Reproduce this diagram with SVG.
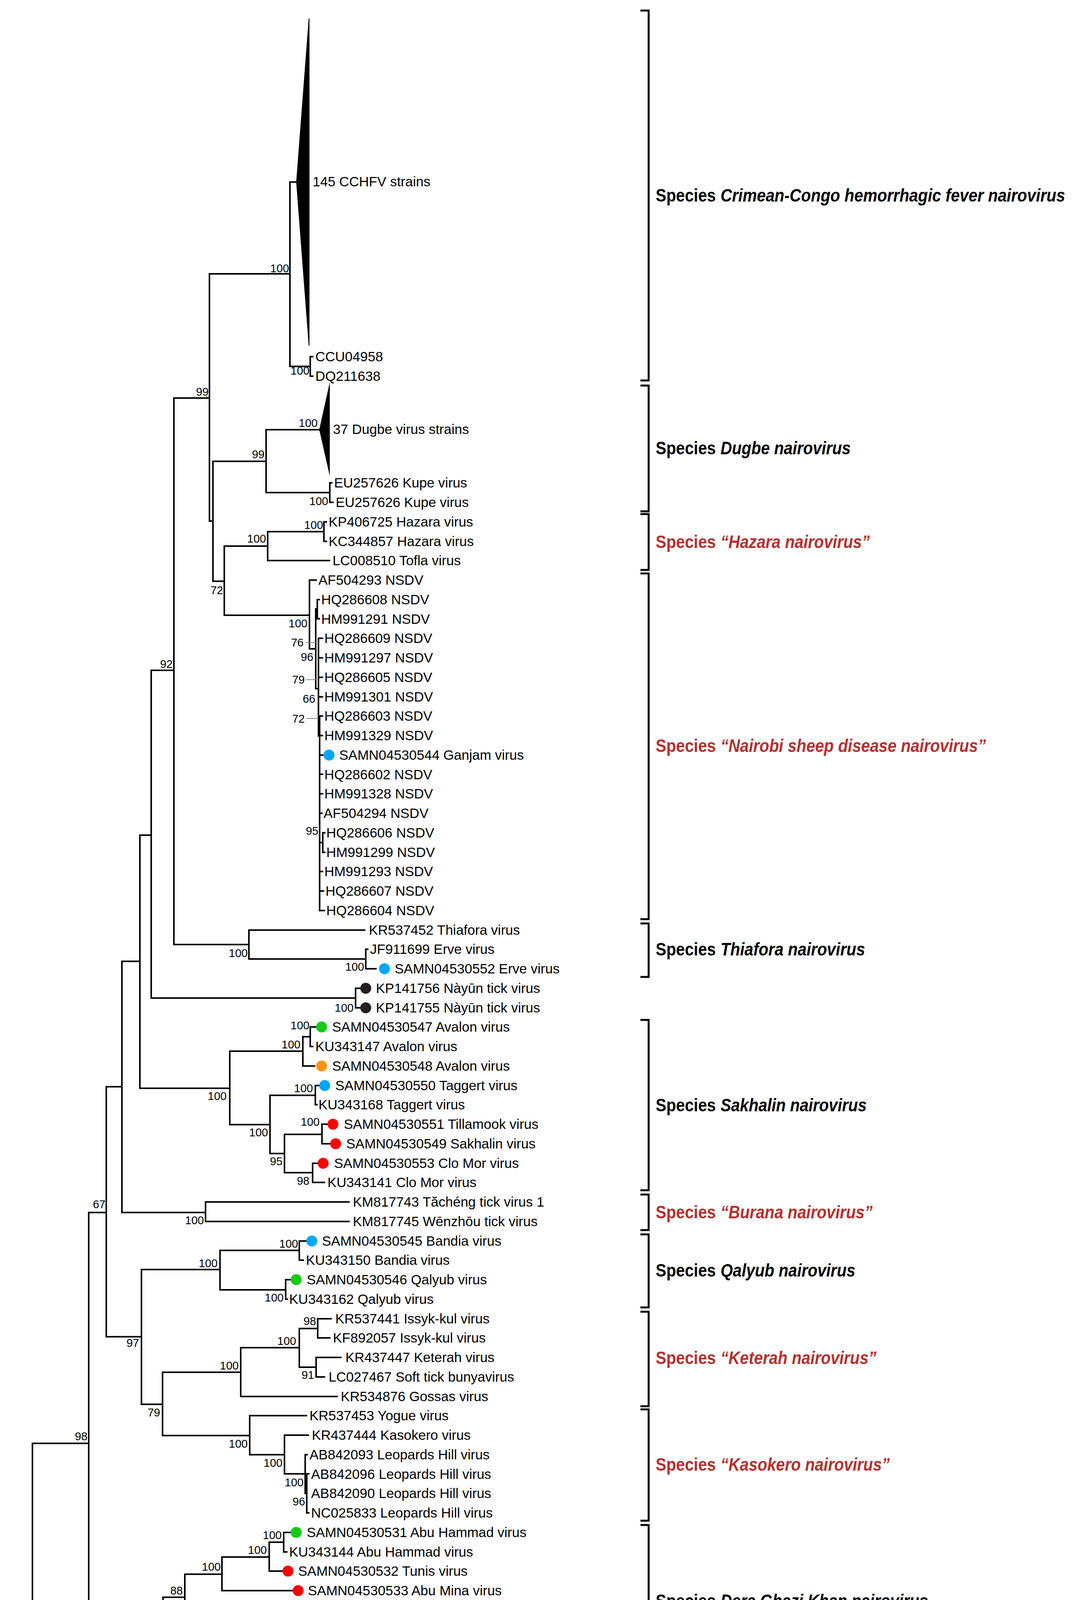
<svg xmlns="http://www.w3.org/2000/svg" width="2746" height="5139" viewBox="0 0 2746 5139">
<style>
.br{stroke:#000;stroke-width:4;fill:none;stroke-linecap:square}
.ld{stroke:#8a8a8a;stroke-width:2;fill:none}
.bk{stroke:#000;stroke-width:5;fill:none}
.t{font-family:"Liberation Sans",Arial,sans-serif;font-size:35px;fill:#000}
.bs{font-family:"Liberation Sans",Arial,sans-serif;font-size:29px;fill:#000;text-anchor:end}
.sp{font-family:"Liberation Sans",Arial,sans-serif;font-size:46px;font-weight:bold;fill:#000}
.red{fill:#b3312f}
.it{font-style:italic}
.cb{fill:#00a6ff}.cg{fill:#14cc14}.cr{fill:#ff0000}.co{fill:#ff9410}.ck{fill:#231f20}
</style>
<rect width="2746" height="5139" fill="#fff"/>
<g id="connectors">
<path class="br" d="M25 4232V4900M25 4232H83M25 4900H48"/>
<path class="br" d="M83 3695V4769M83 3695H227M83 4769H1065"/>
<path class="br" d="M227 3104V4291M227 3104H272M227 4291H352"/>
<path class="br" d="M272 2782V3422M272 2782H312M272 3422H362"/>
<path class="br" d="M312 2461V3104M312 2461H358M312 3104H526"/>
<path class="br" d="M358 2138V2786M358 2138H387M358 2786H588"/>
<path class="br" d="M387 1716V2555M387 1716H445M387 2555H910"/>
<path class="br" d="M445 1019V2418M445 1019H536M445 2418H637"/>
<path class="br" d="M536 701V1334M536 701H742M536 1334H545"/>
<path class="br" d="M742 466V938M742 466H758M742 938H794"/>
<path class="br" d="M794 913V963M794 913H800M794 963H800"/>
<polygon points="790,47 758,466 790,885 792,885 792,47" fill="#000"/>
<path class="br" d="M545 1181V1488M545 1181H681M545 1488H574"/>
<path class="br" d="M681 1100V1261M681 1100H817M681 1261H844"/>
<polygon points="844,978 817,1100 844,1219" fill="#000"/>
<path class="br" d="M844 1236V1286M844 1236H849M844 1286H852"/>
<path class="br" d="M574 1398V1575M574 1398H685M574 1575H792"/>
<path class="br" d="M685 1361V1435M685 1361H829M685 1435H843"/>
<path class="br" d="M829 1336V1386M829 1336H835M829 1386H835"/>
<path class="br" d="M792 1485V1661M792 1485H809M792 1661H808"/>
<path class="br" d="M808 1559V1763M808 1559H812M808 1763H815"/>
<path class="br" d="M812 1535V1584M812 1535H817M812 1584H817"/>
<path class="br" d="M815 1634V1884M815 1634H825M815 1684H825M815 1734H825M815 1784H825M815 1884H818"/>
<path class="br" d="M818 1833V2331M818 1833H825M818 1883H825M818 1933H826M818 1982H825M818 2032H825M818 2082H824M818 2231H825M818 2281H828M818 2331H830"/>
<path class="br" d="M818 2157H826M826 2132V2182M826 2132H831M826 2182H831"/>
<path class="ld" d="M782 1645H815M783 1740H812M783 1839H815"/>
<path class="br" d="M637 2381V2455M637 2381H933M637 2455H936"/>
<path class="br" d="M936 2430V2480M936 2430H941M936 2480H962"/>
<path class="br" d="M910 2530V2580M910 2530H920M910 2580H920"/>
<path class="br" d="M588 2691V2879M588 2691H775M588 2879H691"/>
<path class="br" d="M775 2654V2729M775 2654H794M775 2729H805"/>
<path class="br" d="M794 2629V2679M794 2629H807M794 2679H800"/>
<path class="br" d="M691 2804V2953M691 2804H807M691 2953H728"/>
<path class="br" d="M807 2779V2828M807 2779H815M807 2828H811"/>
<path class="br" d="M728 2904V3002M728 2904H824M728 3002H800"/>
<path class="br" d="M824 2878V2928M824 2878H836M824 2928H843"/>
<path class="br" d="M800 2978V3027M800 2978H811M800 3027H830"/>
<path class="br" d="M526 3077V3127M526 3077H893M526 3127H893"/>
<path class="br" d="M362 3250V3595M362 3250H563M362 3595H416"/>
<path class="br" d="M563 3201V3302M563 3201H766M563 3302H731"/>
<path class="br" d="M766 3177V3226M766 3177H782M766 3226H776"/>
<path class="br" d="M731 3276V3326M731 3276H742M731 3326H735"/>
<path class="br" d="M416 3513V3675M416 3513H616M416 3675H639"/>
<path class="br" d="M616 3450V3575M616 3450H766M616 3575H863"/>
<path class="br" d="M766 3401V3500M766 3401H813M766 3500H809"/>
<path class="br" d="M813 3376V3425M813 3376H847M813 3425H844"/>
<path class="br" d="M809 3475V3525M809 3475H872M809 3525H830"/>
<path class="br" d="M639 3624V3724M639 3624H784M639 3724H728"/>
<path class="br" d="M728 3674V3773M728 3674H789M728 3773H781"/>
<path class="br" d="M781 3724V3823M781 3724H786M781 3823H785"/>
<path class="br" d="M785 3773V3873M785 3773H790M785 3873H790"/>
<path class="br" d="M352 4170V4415M352 4170H417M352 4415H606"/>
<path class="br" d="M417 4089V4247M417 4089H473M417 4247H835"/>
<path class="br" d="M473 4030V4149M473 4030H568M473 4149H752"/>
<path class="br" d="M568 3986V4072M568 3986H689M568 4072H747"/>
<path class="br" d="M689 3948V4022M689 3948H726M689 4022H721"/>
<path class="br" d="M726 3923V3973M726 3923H742M726 3973H734"/>
<path class="br" d="M752 4122V4172M752 4122H767M752 4172H757"/>
<path class="br" d="M835 4221V4271M835 4221H848M835 4271H843"/>
<path class="br" d="M606 4346V4479M606 4346H773M606 4479H712"/>
<path class="br" d="M773 4321V4371M773 4321H920M773 4371H912"/>
<path class="br" d="M712 4420V4535M712 4420H885M712 4535H761"/>
<path class="br" d="M761 4470V4601M761 4470H879M761 4601H784"/>
<path class="br" d="M784 4545V4657M784 4545H852M784 4657H876"/>
<path class="br" d="M852 4520V4570M852 4520H870M852 4570H861"/>
<path class="br" d="M876 4620V4694M876 4620H916M876 4694H901"/>
<path class="br" d="M901 4669V4719M901 4669H914M901 4719H915"/>
<path class="br" d="M48 4843V4956M48 4843H844M48 4956H63"/>
<path class="br" d="M844 4818V4868M844 4818H878M844 4868H869"/>
<path class="br" d="M63 4918V4993M63 4918H1065M63 4993H327"/>
<path class="br" d="M327 4968V5017M327 4968H973M327 5017H985"/>
</g>
<g id="brackets">
<path class="bk" d="M1639 27H1660V974H1639"/>
<path class="bk" d="M1639 987H1660V1309H1639"/>
<path class="bk" d="M1639 1316H1660V1459H1639"/>
<path class="bk" d="M1639 1468H1660V2353H1639"/>
<path class="bk" d="M1639 2364H1660V2501H1639"/>
<path class="bk" d="M1639 2611H1660V3047H1639"/>
<path class="bk" d="M1639 3058H1660V3149H1639"/>
<path class="bk" d="M1639 3160H1660V3347H1639"/>
<path class="bk" d="M1639 3358H1660V3600H1639"/>
<path class="bk" d="M1639 3608H1660V3893H1639"/>
<path class="bk" d="M1639 3904H1660V4294H1639"/>
<path class="bk" d="M1639 4304H1660V4740H1639"/>
<path class="bk" d="M1639 4749H1660V4789H1639"/>
<path class="bk" d="M1639 4794H1660V4884H1639"/>
<path class="bk" d="M1639 4892H1660V4935H1639"/>
<path class="bk" d="M1639 4941H1660V5031H1639"/>
</g>
<g id="species-labels">
<g id="sp-cchfv"><text class="sp" x="1678" y="516" textLength="154" lengthAdjust="spacingAndGlyphs">Species</text><text class="sp it" x="1844" y="516" textLength="882" lengthAdjust="spacingAndGlyphs">Crimean-Congo hemorrhagic fever nairovirus</text></g>
<g id="sp-dugbe"><text class="sp" x="1678" y="1163" textLength="154" lengthAdjust="spacingAndGlyphs">Species</text><text class="sp it" x="1844" y="1163" textLength="333" lengthAdjust="spacingAndGlyphs">Dugbe nairovirus</text></g>
<g id="sp-hazara"><text class="sp red" x="1678" y="1403" textLength="154" lengthAdjust="spacingAndGlyphs">Species</text><text class="sp red it" x="1844" y="1403" textLength="382" lengthAdjust="spacingAndGlyphs">“Hazara nairovirus”</text></g>
<g id="sp-nsdv"><text class="sp red" x="1678" y="1925" textLength="154" lengthAdjust="spacingAndGlyphs">Species</text><text class="sp red it" x="1844" y="1925" textLength="679" lengthAdjust="spacingAndGlyphs">“Nairobi sheep disease nairovirus”</text></g>
<g id="sp-thiafora"><text class="sp" x="1678" y="2446" textLength="154" lengthAdjust="spacingAndGlyphs">Species</text><text class="sp it" x="1844" y="2446" textLength="370" lengthAdjust="spacingAndGlyphs">Thiafora nairovirus</text></g>
<g id="sp-sakhalin"><text class="sp" x="1678" y="2845" textLength="154" lengthAdjust="spacingAndGlyphs">Species</text><text class="sp it" x="1844" y="2845" textLength="374" lengthAdjust="spacingAndGlyphs">Sakhalin nairovirus</text></g>
<g id="sp-burana"><text class="sp red" x="1678" y="3119" textLength="154" lengthAdjust="spacingAndGlyphs">Species</text><text class="sp red it" x="1844" y="3119" textLength="389" lengthAdjust="spacingAndGlyphs">“Burana nairovirus”</text></g>
<g id="sp-qalyub"><text class="sp" x="1678" y="3268" textLength="154" lengthAdjust="spacingAndGlyphs">Species</text><text class="sp it" x="1844" y="3268" textLength="345" lengthAdjust="spacingAndGlyphs">Qalyub nairovirus</text></g>
<g id="sp-keterah"><text class="sp red" x="1678" y="3492" textLength="154" lengthAdjust="spacingAndGlyphs">Species</text><text class="sp red it" x="1844" y="3492" textLength="399" lengthAdjust="spacingAndGlyphs">“Keterah nairovirus”</text></g>
<g id="sp-kasokero"><text class="sp red" x="1678" y="3765" textLength="154" lengthAdjust="spacingAndGlyphs">Species</text><text class="sp red it" x="1844" y="3765" textLength="433" lengthAdjust="spacingAndGlyphs">“Kasokero nairovirus”</text></g>
<g id="sp-dgk"><text class="sp" x="1678" y="4114" textLength="154" lengthAdjust="spacingAndGlyphs">Species</text><text class="sp it" x="1844" y="4114" textLength="531" lengthAdjust="spacingAndGlyphs">Dera Ghazi Khan nairovirus</text></g>
<g id="sp-hughes"><text class="sp" x="1678" y="4537" textLength="154" lengthAdjust="spacingAndGlyphs">Species</text><text class="sp it" x="1844" y="4537" textLength="355" lengthAdjust="spacingAndGlyphs">Hughes nairovirus</text></g>
<g id="sp-g4"><text class="sp" x="1678" y="4784" textLength="459" lengthAdjust="spacingAndGlyphs">Nairo-like virus genus 4</text></g>
<g id="sp-g1"><text class="sp" x="1678" y="4856" textLength="458" lengthAdjust="spacingAndGlyphs">Nairo-like virus genus 1</text></g>
<g id="sp-g3"><text class="sp" x="1678" y="4930" textLength="459" lengthAdjust="spacingAndGlyphs">Nairo-like virus genus 3</text></g>
<g id="sp-g2"><text class="sp" x="1678" y="5001" textLength="459" lengthAdjust="spacingAndGlyphs">Nairo-like virus genus 2</text></g>
</g>
<g id="bootstrap">
<text class="bs" x="740" y="697">100</text>
<text class="bs" x="792" y="959">100</text>
<text class="bs" x="534" y="1013">99</text>
<text class="bs" x="813" y="1093">100</text>
<text class="bs" x="677" y="1173">99</text>
<text class="bs" x="840" y="1293">100</text>
<text class="bs" x="827" y="1354">100</text>
<text class="bs" x="681" y="1389">100</text>
<text class="bs" x="571" y="1521">72</text>
<text class="bs" x="787" y="1606">100</text>
<text class="bs" x="777" y="1655">76</text>
<text class="bs" x="802" y="1692">96</text>
<text class="bs" x="780" y="1750">79</text>
<text class="bs" x="807" y="1799">66</text>
<text class="bs" x="780" y="1850">72</text>
<text class="bs" x="815" y="2137">95</text>
<text class="bs" x="442" y="1710">92</text>
<text class="bs" x="634" y="2450">100</text>
<text class="bs" x="932" y="2485">100</text>
<text class="bs" x="905" y="2590">100</text>
<text class="bs" x="792" y="2635">100</text>
<text class="bs" x="769" y="2684">100</text>
<text class="bs" x="801" y="2796">100</text>
<text class="bs" x="580" y="2816">100</text>
<text class="bs" x="818" y="2882">100</text>
<text class="bs" x="686" y="2909">100</text>
<text class="bs" x="723" y="2983">95</text>
<text class="bs" x="792" y="3033">98</text>
<text class="bs" x="270" y="3093">67</text>
<text class="bs" x="522" y="3134">100</text>
<text class="bs" x="763" y="3194">100</text>
<text class="bs" x="557" y="3244">100</text>
<text class="bs" x="726" y="3332">100</text>
<text class="bs" x="809" y="3392">98</text>
<text class="bs" x="758" y="3443">100</text>
<text class="bs" x="356" y="3448">97</text>
<text class="bs" x="611" y="3506">100</text>
<text class="bs" x="804" y="3530">91</text>
<text class="bs" x="410" y="3626">79</text>
<text class="bs" x="224" y="3687">98</text>
<text class="bs" x="634" y="3706">100</text>
<text class="bs" x="723" y="3755">100</text>
<text class="bs" x="777" y="3805">100</text>
<text class="bs" x="781" y="3854">96</text>
<text class="bs" x="721" y="3940">100</text>
<text class="bs" x="683" y="3978">100</text>
<text class="bs" x="565" y="4021">100</text>
<text class="bs" x="468" y="4082">88</text>
<text class="bs" x="413" y="4161">97</text>
<text class="bs" x="746" y="4178">100</text>
<text class="bs" x="830" y="4276">100</text>
<text class="bs" x="350" y="4313">99</text>
<text class="bs" x="767" y="4337">100</text>
<text class="bs" x="600" y="4445">100</text>
<text class="bs" x="706" y="4509">99</text>
<text class="bs" x="847" y="4535">100</text>
<text class="bs" x="755" y="4567">90</text>
<text class="bs" x="781" y="4632">84</text>
<text class="bs" x="869" y="4688">100</text>
<text class="bs" x="892" y="4725">100</text>
<text class="bs" x="840" y="4830">100</text>
<text class="bs" x="321" y="5023">100</text>
</g>
<g id="tips">
<g id="n-cchfv"><text class="t" x="800" y="477">145 CCHFV strains</text></g>
<g id="n-ccu04958"><text class="t" x="807" y="925">CCU04958</text></g>
<g id="n-dq211638"><text class="t" x="807" y="975">DQ211638</text></g>
<g id="n-dugbe"><text class="t" x="852" y="1111">37 Dugbe virus strains</text></g>
<g id="n-eu1"><text class="t" x="855" y="1248">EU257626 Kupe virus</text></g>
<g id="n-eu2"><text class="t" x="859" y="1298">EU257626 Kupe virus</text></g>
<g id="n-kp406725"><text class="t" x="841" y="1348">KP406725 Hazara virus</text></g>
<g id="n-kc344857"><text class="t" x="841" y="1398">KC344857 Hazara virus</text></g>
<g id="n-lc008510"><text class="t" x="851" y="1447">LC008510 Tofla virus</text></g>
<g id="n-af504293"><text class="t" x="815" y="1497">AF504293 NSDV</text></g>
<g id="n-hq286608"><text class="t" x="822" y="1547">HQ286608 NSDV</text></g>
<g id="n-hm991291"><text class="t" x="822" y="1597">HM991291 NSDV</text></g>
<g id="n-hq286609"><text class="t" x="830" y="1646">HQ286609 NSDV</text></g>
<g id="n-hm991297"><text class="t" x="830" y="1696">HM991297 NSDV</text></g>
<g id="n-hq286605"><text class="t" x="830" y="1746">HQ286605 NSDV</text></g>
<g id="n-hm991301"><text class="t" x="830" y="1796">HM991301 NSDV</text></g>
<g id="n-hq286603"><text class="t" x="830" y="1845">HQ286603 NSDV</text></g>
<g id="n-hm991329"><text class="t" x="830" y="1895">HM991329 NSDV</text></g>
<g id="n-ganjam"><circle class="cb" cx="842" cy="1933" r="14"/><text class="t" x="868" y="1945">SAMN04530544 Ganjam virus</text></g>
<g id="n-hq286602"><text class="t" x="830" y="1995">HQ286602 NSDV</text></g>
<g id="n-hm991328"><text class="t" x="830" y="2044">HM991328 NSDV</text></g>
<g id="n-af504294"><text class="t" x="828" y="2094">AF504294 NSDV</text></g>
<g id="n-hq286606"><text class="t" x="835" y="2144">HQ286606 NSDV</text></g>
<g id="n-hm991299"><text class="t" x="835" y="2194">HM991299 NSDV</text></g>
<g id="n-hm991293"><text class="t" x="830" y="2243">HM991293 NSDV</text></g>
<g id="n-hq286607"><text class="t" x="833" y="2293">HQ286607 NSDV</text></g>
<g id="n-hq286604"><text class="t" x="835" y="2343">HQ286604 NSDV</text></g>
<g id="n-kr537452"><text class="t" x="944" y="2393">KR537452 Thiafora virus</text></g>
<g id="n-jf911699"><text class="t" x="947" y="2442">JF911699 Erve virus</text></g>
<g id="n-erve"><circle class="cb" cx="984" cy="2480" r="14"/><text class="t" x="1010" y="2492">SAMN04530552 Erve virus</text></g>
<g id="n-kp141756"><circle class="ck" cx="936" cy="2530" r="14"/><text class="t" x="962" y="2542">KP141756 Nàyūn tick virus</text></g>
<g id="n-kp141755"><circle class="ck" cx="936" cy="2580" r="14"/><text class="t" x="962" y="2592">KP141755 Nàyūn tick virus</text></g>
<g id="n-avalon1"><circle class="cg" cx="823" cy="2629" r="14"/><text class="t" x="850" y="2641">SAMN04530547 Avalon virus</text></g>
<g id="n-ku343147"><text class="t" x="807" y="2691">KU343147 Avalon virus</text></g>
<g id="n-avalon2"><circle class="co" cx="823" cy="2729" r="14"/><text class="t" x="850" y="2741">SAMN04530548 Avalon virus</text></g>
<g id="n-taggert"><circle class="cb" cx="831" cy="2779" r="14"/><text class="t" x="858" y="2791">SAMN04530550 Taggert virus</text></g>
<g id="n-ku343168"><text class="t" x="815" y="2840">KU343168 Taggert virus</text></g>
<g id="n-tillamook"><circle class="cr" cx="852" cy="2878" r="14"/><text class="t" x="880" y="2890">SAMN04530551 Tillamook virus</text></g>
<g id="n-sakhalin"><circle class="cr" cx="859" cy="2928" r="14"/><text class="t" x="886" y="2940">SAMN04530549 Sakhalin virus</text></g>
<g id="n-clomor"><circle class="cr" cx="827" cy="2978" r="14"/><text class="t" x="855" y="2990">SAMN04530553 Clo Mor virus</text></g>
<g id="n-ku343141"><text class="t" x="838" y="3039">KU343141 Clo Mor virus</text></g>
<g id="n-km817743"><text class="t" x="903" y="3089">KM817743 Tăchéng tick virus 1</text></g>
<g id="n-km817745"><text class="t" x="903" y="3139">KM817745 Wēnzhōu tick virus</text></g>
<g id="n-bandia"><circle class="cb" cx="798" cy="3177" r="14"/><text class="t" x="824" y="3189">SAMN04530545 Bandia virus</text></g>
<g id="n-ku343150"><text class="t" x="783" y="3238">KU343150 Bandia virus</text></g>
<g id="n-qalyub"><circle class="cg" cx="758" cy="3276" r="14"/><text class="t" x="785" y="3288">SAMN04530546 Qalyub virus</text></g>
<g id="n-ku343162"><text class="t" x="740" y="3338">KU343162 Qalyub virus</text></g>
<g id="n-kr537441"><text class="t" x="858" y="3388">KR537441 Issyk-kul virus</text></g>
<g id="n-kf892057"><text class="t" x="852" y="3437">KF892057 Issyk-kul virus</text></g>
<g id="n-kr437447"><text class="t" x="884" y="3487">KR437447 Keterah virus</text></g>
<g id="n-lc027467"><text class="t" x="841" y="3537">LC027467 Soft tick bunyavirus</text></g>
<g id="n-kr534876"><text class="t" x="872" y="3587">KR534876 Gossas virus</text></g>
<g id="n-kr537453"><text class="t" x="792" y="3636">KR537453 Yogue virus</text></g>
<g id="n-kr437444"><text class="t" x="798" y="3686">KR437444 Kasokero virus</text></g>
<g id="n-ab842093"><text class="t" x="792" y="3736">AB842093 Leopards Hill virus</text></g>
<g id="n-ab842096"><text class="t" x="796" y="3786">AB842096 Leopards Hill virus</text></g>
<g id="n-ab842090"><text class="t" x="796" y="3835">AB842090 Leopards Hill virus</text></g>
<g id="n-nc025833"><text class="t" x="796" y="3885">NC025833 Leopards Hill virus</text></g>
<g id="n-abuhammad"><circle class="cg" cx="758" cy="3923" r="14"/><text class="t" x="785" y="3935">SAMN04530531 Abu Hammad virus</text></g>
<g id="n-ku343144"><text class="t" x="740" y="3985">KU343144 Abu Hammad virus</text></g>
<g id="n-tunis"><circle class="cr" cx="737" cy="4022" r="14"/><text class="t" x="763" y="4034">SAMN04530532 Tunis virus</text></g>
<g id="n-abumina"><circle class="cr" cx="763" cy="4072" r="14"/><text class="t" x="788" y="4084">SAMN04530533 Abu Mina virus</text></g>
<g id="n-dgk"><circle class="cg" cx="783" cy="4122" r="14"/><text class="t" x="809" y="4134">SAMN04530534 Dera Ghazi Khan virus</text></g>
<g id="n-ku343153"><text class="t" x="763" y="4184">KU343153 Dera Ghazi Khan virus</text></g>
<g id="n-sapphire"><circle class="co" cx="864" cy="4221" r="14"/><text class="t" x="892" y="4233">SAMN04530535 Sapphire II virus</text></g>
<g id="n-ku343165"><text class="t" x="850" y="4283">KU343165 Sapphire II virus</text></g>
<g id="n-soldado"><circle class="cr" cx="936" cy="4321" r="14"/><text class="t" x="962" y="4333">SAMN04530541 Soldado virus</text></g>
<g id="n-greatsaltee"><circle class="cr" cx="928" cy="4371" r="14"/><text class="t" x="953" y="4383">SAMN04530537 Great Saltee virus</text></g>
<g id="n-zirqa"><circle class="co" cx="901" cy="4420" r="14"/><text class="t" x="928" y="4432">SAMN04530542 Zirqa virus</text></g>
<g id="n-raza"><circle class="cr" cx="895" cy="4470" r="14"/><text class="t" x="921" y="4482">SAMN04530540 Raza virus</text></g>
<g id="n-punta"><circle class="cb" cx="899" cy="4520" r="14"/><text class="t" x="925" y="4532">SAMN04530539 Punta Salinas virus</text></g>
<g id="n-ku343159"><text class="t" x="868" y="4582">KU343159 Punta Salinas virus</text></g>
<g id="n-hughes"><circle class="cr" cx="932" cy="4619" r="14"/><text class="t" x="957" y="4631">SAMN04530538 Hughes virus</text></g>
<g id="n-farallon"><circle class="cg" cx="930" cy="4669" r="14"/><text class="t" x="956" y="4681">SAMN04530536 Farallon virus</text></g>
<g id="n-ku343156"><text class="t" x="922" y="4731">KU343156 Farallon virus</text></g>
<g id="n-km817757"><text class="t" x="1071" y="4781">KM817757 Wǔhàn millipede virus 2</text></g>
<g id="n-kj746878"><text class="t" x="884" y="4830">KJ746878 South Bay virus</text></g>
<g id="n-km048321"><text class="t" x="875" y="4880">KM048321 South Bay virus</text></g>
<g id="n-km817738"><text class="t" x="1073" y="4930">KM817738 Shāyáng spider virus 1</text></g>
<g id="n-km817737"><text class="t" x="982" y="4980">KM817737 Sānxiá water strider virus 1</text></g>
<g id="n-km817762"><circle class="ck" cx="1001" cy="5017" r="14"/><text class="t" x="1027" y="5029">KM817762 Xīnzhōu spider virus</text></g>
</g>
<g id="scale-bar">
<path class="br" d="M155 5073H365M155 5060V5088M365 5060V5088"/>
<text class="t" x="260" y="5114" text-anchor="middle">0.2</text>
</g>
</svg>
